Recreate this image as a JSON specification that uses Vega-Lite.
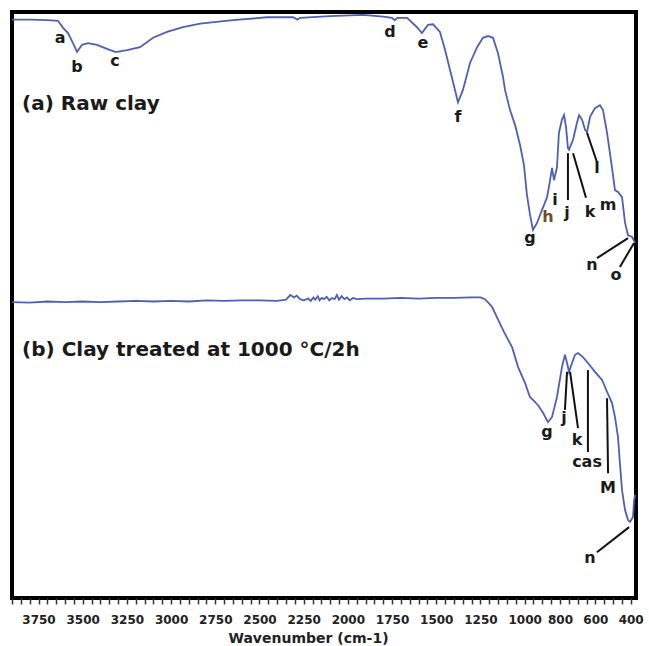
{
  "$schema": "https://vega.github.io/schema/vega-lite/v6.json",
  "width": 624,
  "height": 586,
  "autosize": {"type": "none"},
  "padding": {"left": 12, "top": 12, "right": 13, "bottom": 48},
  "background": "white",
  "config": {
    "view": {"stroke": "black", "strokeWidth": 4},
    "font": "DejaVu Sans"
  },
  "datasets": {
    "spectra": [
      {"sample": "raw", "wavenumber": 3900, "signal": 98.7},
      {"sample": "raw", "wavenumber": 3800, "signal": 98.7},
      {"sample": "raw", "wavenumber": 3700, "signal": 98.6},
      {"sample": "raw", "wavenumber": 3640, "signal": 98.5},
      {"sample": "raw", "wavenumber": 3611, "signal": 97.3},
      {"sample": "raw", "wavenumber": 3583, "signal": 96.4},
      {"sample": "raw", "wavenumber": 3555, "signal": 94.7},
      {"sample": "raw", "wavenumber": 3532, "signal": 93.2},
      {"sample": "raw", "wavenumber": 3504, "signal": 94.4},
      {"sample": "raw", "wavenumber": 3470, "signal": 94.7},
      {"sample": "raw", "wavenumber": 3419, "signal": 94.4},
      {"sample": "raw", "wavenumber": 3363, "signal": 93.7},
      {"sample": "raw", "wavenumber": 3317, "signal": 93.2},
      {"sample": "raw", "wavenumber": 3306, "signal": 93.2},
      {"sample": "raw", "wavenumber": 3249, "signal": 93.5},
      {"sample": "raw", "wavenumber": 3176, "signal": 94.0},
      {"sample": "raw", "wavenumber": 3102, "signal": 95.6},
      {"sample": "raw", "wavenumber": 3023, "signal": 96.6},
      {"sample": "raw", "wavenumber": 2933, "signal": 97.4},
      {"sample": "raw", "wavenumber": 2836, "signal": 98.0},
      {"sample": "raw", "wavenumber": 2650, "signal": 98.6},
      {"sample": "raw", "wavenumber": 2457, "signal": 99.1},
      {"sample": "raw", "wavenumber": 2310, "signal": 99.1},
      {"sample": "raw", "wavenumber": 2285, "signal": 98.7},
      {"sample": "raw", "wavenumber": 2271, "signal": 99.0},
      {"sample": "raw", "wavenumber": 2101, "signal": 99.3},
      {"sample": "raw", "wavenumber": 1914, "signal": 99.5},
      {"sample": "raw", "wavenumber": 1800, "signal": 99.2},
      {"sample": "raw", "wavenumber": 1750, "signal": 99.0},
      {"sample": "raw", "wavenumber": 1735, "signal": 98.6},
      {"sample": "raw", "wavenumber": 1720, "signal": 99.0},
      {"sample": "raw", "wavenumber": 1665, "signal": 99.0},
      {"sample": "raw", "wavenumber": 1609, "signal": 97.4},
      {"sample": "raw", "wavenumber": 1581, "signal": 96.4},
      {"sample": "raw", "wavenumber": 1547, "signal": 97.8},
      {"sample": "raw", "wavenumber": 1518, "signal": 97.9},
      {"sample": "raw", "wavenumber": 1479, "signal": 96.6},
      {"sample": "raw", "wavenumber": 1450, "signal": 93.5},
      {"sample": "raw", "wavenumber": 1422, "signal": 90.1},
      {"sample": "raw", "wavenumber": 1394, "signal": 86.7},
      {"sample": "raw", "wavenumber": 1377, "signal": 84.6},
      {"sample": "raw", "wavenumber": 1349, "signal": 86.7},
      {"sample": "raw", "wavenumber": 1309, "signal": 91.3},
      {"sample": "raw", "wavenumber": 1269, "signal": 94.0},
      {"sample": "raw", "wavenumber": 1236, "signal": 95.6},
      {"sample": "raw", "wavenumber": 1207, "signal": 95.9},
      {"sample": "raw", "wavenumber": 1179, "signal": 95.6},
      {"sample": "raw", "wavenumber": 1151, "signal": 93.0},
      {"sample": "raw", "wavenumber": 1122, "signal": 88.9},
      {"sample": "raw", "wavenumber": 1111, "signal": 86.7},
      {"sample": "raw", "wavenumber": 1083, "signal": 83.3},
      {"sample": "raw", "wavenumber": 1054, "signal": 80.7},
      {"sample": "raw", "wavenumber": 1026, "signal": 77.3},
      {"sample": "raw", "wavenumber": 1004, "signal": 73.9},
      {"sample": "raw", "wavenumber": 987, "signal": 68.8},
      {"sample": "raw", "wavenumber": 970, "signal": 65.5},
      {"sample": "raw", "wavenumber": 953, "signal": 62.8},
      {"sample": "raw", "wavenumber": 930, "signal": 64.0},
      {"sample": "raw", "wavenumber": 902, "signal": 66.2},
      {"sample": "raw", "wavenumber": 873, "signal": 68.4},
      {"sample": "raw", "wavenumber": 856, "signal": 71.3},
      {"sample": "raw", "wavenumber": 845, "signal": 73.4},
      {"sample": "raw", "wavenumber": 834, "signal": 71.3},
      {"sample": "raw", "wavenumber": 817, "signal": 73.5},
      {"sample": "raw", "wavenumber": 806, "signal": 79.4},
      {"sample": "raw", "wavenumber": 789, "signal": 81.6},
      {"sample": "raw", "wavenumber": 777, "signal": 82.4},
      {"sample": "raw", "wavenumber": 766, "signal": 80.4},
      {"sample": "raw", "wavenumber": 755, "signal": 76.8},
      {"sample": "raw", "wavenumber": 749, "signal": 76.5},
      {"sample": "raw", "wavenumber": 726, "signal": 78.2},
      {"sample": "raw", "wavenumber": 704, "signal": 81.1},
      {"sample": "raw", "wavenumber": 692, "signal": 82.4},
      {"sample": "raw", "wavenumber": 675, "signal": 81.6},
      {"sample": "raw", "wavenumber": 658, "signal": 79.9},
      {"sample": "raw", "wavenumber": 647, "signal": 79.5},
      {"sample": "raw", "wavenumber": 630, "signal": 82.1},
      {"sample": "raw", "wavenumber": 602, "signal": 83.6},
      {"sample": "raw", "wavenumber": 574, "signal": 84.1},
      {"sample": "raw", "wavenumber": 557, "signal": 83.3},
      {"sample": "raw", "wavenumber": 534, "signal": 79.4},
      {"sample": "raw", "wavenumber": 506, "signal": 73.5},
      {"sample": "raw", "wavenumber": 489, "signal": 69.6},
      {"sample": "raw", "wavenumber": 472, "signal": 69.3},
      {"sample": "raw", "wavenumber": 449, "signal": 68.4},
      {"sample": "raw", "wavenumber": 432, "signal": 64.0},
      {"sample": "raw", "wavenumber": 415, "signal": 61.9},
      {"sample": "raw", "wavenumber": 392, "signal": 61.6},
      {"sample": "raw", "wavenumber": 375, "signal": 60.6},

      {"sample": "fired", "wavenumber": 3900, "signal": 50.5},
      {"sample": "fired", "wavenumber": 3800, "signal": 50.4},
      {"sample": "fired", "wavenumber": 3700, "signal": 50.6},
      {"sample": "fired", "wavenumber": 3600, "signal": 50.5},
      {"sample": "fired", "wavenumber": 3500, "signal": 50.6},
      {"sample": "fired", "wavenumber": 3400, "signal": 50.5},
      {"sample": "fired", "wavenumber": 3300, "signal": 50.6},
      {"sample": "fired", "wavenumber": 3200, "signal": 50.7},
      {"sample": "fired", "wavenumber": 3100, "signal": 50.6},
      {"sample": "fired", "wavenumber": 3000, "signal": 50.7},
      {"sample": "fired", "wavenumber": 2900, "signal": 50.6},
      {"sample": "fired", "wavenumber": 2800, "signal": 50.8},
      {"sample": "fired", "wavenumber": 2700, "signal": 50.7},
      {"sample": "fired", "wavenumber": 2600, "signal": 50.8},
      {"sample": "fired", "wavenumber": 2500, "signal": 50.8},
      {"sample": "fired", "wavenumber": 2400, "signal": 50.7},
      {"sample": "fired", "wavenumber": 2350, "signal": 50.9},
      {"sample": "fired", "wavenumber": 2325, "signal": 51.7},
      {"sample": "fired", "wavenumber": 2305, "signal": 51.3},
      {"sample": "fired", "wavenumber": 2290, "signal": 51.6},
      {"sample": "fired", "wavenumber": 2270, "signal": 51.0},
      {"sample": "fired", "wavenumber": 2250, "signal": 50.8},
      {"sample": "fired", "wavenumber": 2225, "signal": 51.1},
      {"sample": "fired", "wavenumber": 2210, "signal": 50.7},
      {"sample": "fired", "wavenumber": 2195, "signal": 51.3},
      {"sample": "fired", "wavenumber": 2185, "signal": 50.9},
      {"sample": "fired", "wavenumber": 2170, "signal": 51.5},
      {"sample": "fired", "wavenumber": 2160, "signal": 50.8},
      {"sample": "fired", "wavenumber": 2148, "signal": 51.2},
      {"sample": "fired", "wavenumber": 2135, "signal": 51.0},
      {"sample": "fired", "wavenumber": 2120, "signal": 51.4},
      {"sample": "fired", "wavenumber": 2105, "signal": 50.8},
      {"sample": "fired", "wavenumber": 2090, "signal": 51.2},
      {"sample": "fired", "wavenumber": 2075, "signal": 51.0},
      {"sample": "fired", "wavenumber": 2062, "signal": 51.7},
      {"sample": "fired", "wavenumber": 2050, "signal": 50.9},
      {"sample": "fired", "wavenumber": 2035, "signal": 51.5},
      {"sample": "fired", "wavenumber": 2020, "signal": 51.0},
      {"sample": "fired", "wavenumber": 2005, "signal": 51.3},
      {"sample": "fired", "wavenumber": 1990, "signal": 50.8},
      {"sample": "fired", "wavenumber": 1970, "signal": 51.2},
      {"sample": "fired", "wavenumber": 1950, "signal": 51.0},
      {"sample": "fired", "wavenumber": 1900, "signal": 51.1},
      {"sample": "fired", "wavenumber": 1800, "signal": 51.1},
      {"sample": "fired", "wavenumber": 1700, "signal": 51.2},
      {"sample": "fired", "wavenumber": 1600, "signal": 51.1},
      {"sample": "fired", "wavenumber": 1500, "signal": 51.2},
      {"sample": "fired", "wavenumber": 1400, "signal": 51.2},
      {"sample": "fired", "wavenumber": 1300, "signal": 51.3},
      {"sample": "fired", "wavenumber": 1250, "signal": 51.3},
      {"sample": "fired", "wavenumber": 1224, "signal": 51.0},
      {"sample": "fired", "wavenumber": 1185, "signal": 49.7},
      {"sample": "fired", "wavenumber": 1117, "signal": 45.4},
      {"sample": "fired", "wavenumber": 1071, "signal": 42.8},
      {"sample": "fired", "wavenumber": 1037, "signal": 39.4},
      {"sample": "fired", "wavenumber": 998, "signal": 36.7},
      {"sample": "fired", "wavenumber": 970, "signal": 34.3},
      {"sample": "fired", "wavenumber": 953, "signal": 33.8},
      {"sample": "fired", "wavenumber": 924, "signal": 32.9},
      {"sample": "fired", "wavenumber": 896, "signal": 31.6},
      {"sample": "fired", "wavenumber": 868, "signal": 30.0},
      {"sample": "fired", "wavenumber": 845, "signal": 30.9},
      {"sample": "fired", "wavenumber": 817, "signal": 34.3},
      {"sample": "fired", "wavenumber": 789, "signal": 39.4},
      {"sample": "fired", "wavenumber": 772, "signal": 41.5},
      {"sample": "fired", "wavenumber": 760, "signal": 40.1},
      {"sample": "fired", "wavenumber": 749, "signal": 38.6},
      {"sample": "fired", "wavenumber": 732, "signal": 40.1},
      {"sample": "fired", "wavenumber": 715, "signal": 41.5},
      {"sample": "fired", "wavenumber": 698, "signal": 41.8},
      {"sample": "fired", "wavenumber": 670, "signal": 41.1},
      {"sample": "fired", "wavenumber": 642, "signal": 40.1},
      {"sample": "fired", "wavenumber": 602, "signal": 38.6},
      {"sample": "fired", "wavenumber": 562, "signal": 37.2},
      {"sample": "fired", "wavenumber": 534, "signal": 35.2},
      {"sample": "fired", "wavenumber": 506, "signal": 33.3},
      {"sample": "fired", "wavenumber": 489, "signal": 30.9},
      {"sample": "fired", "wavenumber": 472, "signal": 27.5},
      {"sample": "fired", "wavenumber": 461, "signal": 23.0},
      {"sample": "fired", "wavenumber": 449, "signal": 18.4},
      {"sample": "fired", "wavenumber": 432, "signal": 15.0},
      {"sample": "fired", "wavenumber": 415, "signal": 13.3},
      {"sample": "fired", "wavenumber": 404, "signal": 13.0},
      {"sample": "fired", "wavenumber": 387, "signal": 13.8},
      {"sample": "fired", "wavenumber": 381, "signal": 16.7},
      {"sample": "fired", "wavenumber": 375, "signal": 17.6}
    ],
    "peaks": [
      {"wavenumber": 3628, "signal": 95.6, "text": "a", "tone": "dark"},
      {"wavenumber": 3532, "signal": 90.6, "text": "b", "tone": "dark"},
      {"wavenumber": 3317, "signal": 91.6, "text": "c", "tone": "dark"},
      {"wavenumber": 1762, "signal": 96.6, "text": "d", "tone": "dark"},
      {"wavenumber": 1575, "signal": 94.7, "text": "e", "tone": "dark"},
      {"wavenumber": 1377, "signal": 82.1, "text": "f", "tone": "dark"},
      {"wavenumber": 970, "signal": 61.4, "text": "g", "tone": "dark"},
      {"wavenumber": 868, "signal": 65.0, "text": "h", "tone": "brown"},
      {"wavenumber": 828, "signal": 67.9, "text": "i", "tone": "dark"},
      {"wavenumber": 760, "signal": 65.7, "text": "j", "tone": "dark"},
      {"wavenumber": 630, "signal": 65.9, "text": "k", "tone": "dark"},
      {"wavenumber": 591, "signal": 73.4, "text": "l", "tone": "dark"},
      {"wavenumber": 528, "signal": 67.1, "text": "m", "tone": "dark"},
      {"wavenumber": 619, "signal": 56.8, "text": "n", "tone": "dark"},
      {"wavenumber": 483, "signal": 55.1, "text": "o", "tone": "dark"},
      {"wavenumber": 874, "signal": 28.3, "text": "g", "tone": "dark"},
      {"wavenumber": 777, "signal": 30.7, "text": "j", "tone": "dark"},
      {"wavenumber": 704, "signal": 27.0, "text": "k", "tone": "dark"},
      {"wavenumber": 647, "signal": 23.2, "text": "cas", "tone": "dark"},
      {"wavenumber": 528, "signal": 18.8, "text": "M", "tone": "dark"},
      {"wavenumber": 630, "signal": 6.8, "text": "n", "tone": "dark"}
    ],
    "leaders": [
      {"wavenumber": 755, "signal": 75.9, "wavenumber2": 755, "signal2": 67.9},
      {"wavenumber": 726, "signal": 75.9, "wavenumber2": 653, "signal2": 68.3},
      {"wavenumber": 647, "signal": 79.4, "wavenumber2": 591, "signal2": 74.4},
      {"wavenumber": 591, "signal": 58.0, "wavenumber2": 415, "signal2": 61.4},
      {"wavenumber": 461, "signal": 56.5, "wavenumber2": 381, "signal2": 60.6},
      {"wavenumber": 760, "signal": 38.6, "wavenumber2": 772, "signal2": 32.1},
      {"wavenumber": 743, "signal": 38.6, "wavenumber2": 698, "signal2": 29.0},
      {"wavenumber": 642, "signal": 38.9, "wavenumber2": 642, "signal2": 24.9},
      {"wavenumber": 534, "signal": 34.1, "wavenumber2": 528, "signal2": 21.3},
      {"wavenumber": 591, "signal": 7.8, "wavenumber2": 409, "signal2": 12.1}
    ],
    "panels": [
      {"wavenumber": 3843, "signal": 84.3, "text": "(a) Raw clay"},
      {"wavenumber": 3843, "signal": 42.3, "text": "(b) Clay treated at 1000 °C/2h"}
    ]
  },
  "encoding": {
    "x": {
      "field": "wavenumber",
      "type": "quantitative",
      "scale": {"domain": [3900, 370], "nice": false, "zero": false},
      "axis": {
        "title": "Wavenumber (cm-1)",
        "values": [3900, 3850, 3800, 3750, 3700, 3650, 3600, 3550, 3500, 3450, 3400, 3350, 3300, 3250, 3200, 3150, 3100, 3050, 3000, 2950, 2900, 2850, 2800, 2750, 2700, 2650, 2600, 2550, 2500, 2450, 2400, 2350, 2300, 2250, 2200, 2150, 2100, 2050, 2000, 1950, 1900, 1850, 1800, 1750, 1700, 1650, 1600, 1550, 1500, 1450, 1400, 1350, 1300, 1250, 1200, 1150, 1100, 1050, 1000, 950, 900, 850, 800, 750, 700, 650, 600, 550, 500, 450, 400],
        "labelExpr": "indexof([3750,3500,3250,3000,2750,2500,2250,2000,1750,1500,1250,1000,800,600,400], datum.value) >= 0 ? datum.value : ''",
        "labelOverlap": false,
        "labelFlush": false,
        "labelBound": false,
        "domain": false,
        "grid": false,
        "tickColor": "#333333",
        "tickSize": 6,
        "tickWidth": 1.5,
        "labelFont": "DejaVu Sans",
        "labelFontWeight": "bold",
        "labelFontSize": 12,
        "labelColor": "#222222",
        "labelPadding": 10,
        "titleFont": "DejaVu Sans",
        "titleFontWeight": "bold",
        "titleFontSize": 14,
        "titleColor": "#222222",
        "titlePadding": 6,
        "titleX": 296
      }
    },
    "y": {
      "field": "signal",
      "type": "quantitative",
      "scale": {"domain": [0, 100], "nice": false, "zero": false},
      "axis": null
    }
  },
  "layer": [
    {
      "data": {"name": "spectra"},
      "mark": {"type": "line", "color": "#4f5fb3", "strokeWidth": 1.8, "clip": true},
      "encoding": {"detail": {"field": "sample"}}
    },
    {
      "data": {"name": "leaders"},
      "mark": {"type": "rule", "color": "#111111", "strokeWidth": 2},
      "encoding": {
        "x2": {"field": "wavenumber2"},
        "y2": {"field": "signal2"}
      }
    },
    {
      "data": {"name": "peaks"},
      "mark": {"type": "text", "font": "DejaVu Sans", "fontWeight": "bold", "fontSize": 16, "align": "center", "baseline": "middle"},
      "encoding": {
        "text": {"field": "text"},
        "color": {
          "field": "tone",
          "type": "nominal",
          "scale": {"domain": ["dark", "brown"], "range": ["#1a1a1a", "#7a4a1e"]},
          "legend": null
        }
      }
    },
    {
      "data": {"name": "panels"},
      "mark": {"type": "text", "font": "DejaVu Sans", "fontWeight": "bold", "fontSize": 20, "align": "left", "baseline": "middle", "color": "#1a1a1a"},
      "encoding": {"text": {"field": "text"}}
    }
  ]
}
